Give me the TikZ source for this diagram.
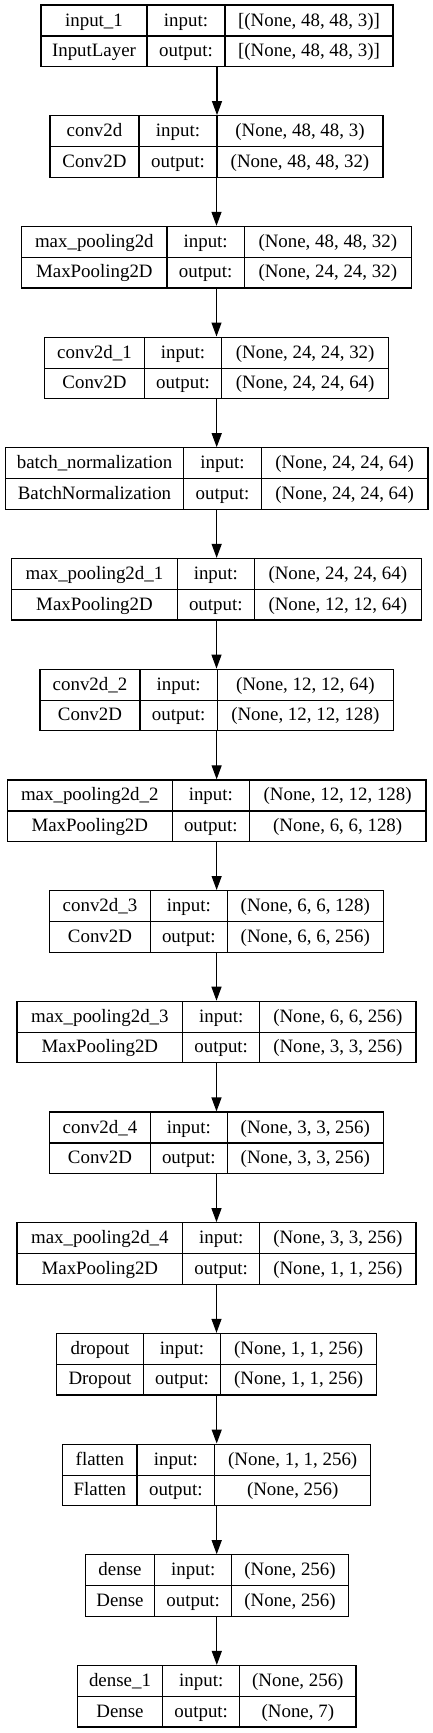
\documentclass[tikz,border=0pt]{standalone}
\usepackage{fontspec}
\setmainfont{Liberation Serif}
\usetikzlibrary{arrows.meta}

\begin{document}
\begin{tikzpicture}[
    x=1pt, y=-1pt,
    layer/.style={draw, line width=1.2pt, inner sep=0pt, minimum height=61.5pt},
    cell/.style={anchor=base, inner sep=0pt, font=\fontsize{18.9}{22}\selectfont},
    sep/.style={line width=1.2pt},
    edge/.style={-{Triangle[length=14pt, width=10pt]}, line width=1.2pt}
]
    \useasboundingbox (0,0) rectangle (433,1733);

    % 定义各层 (编号/左/分隔1/分隔2/右/名称/类型/输入/输出)
    \foreach \i/\xa/\xb/\xc/\xd/\lname/\ltype/\lin/\lout in {
        1/41/147/225/393/input\_1/InputLayer/{[(None, 48, 48, 3)]}/{[(None, 48, 48, 3)]},
        2/50/139/217/383/conv2d/Conv2D/{(None, 48, 48, 3)}/{(None, 48, 48, 32)},
        3/21.7/167/244.3/411.3/max\_pooling2d/MaxPooling2D/{(None, 48, 48, 32)}/{(None, 24, 24, 32)},
        4/44.7/144.3/221.7/388.7/conv2d\_1/Conv2D/{(None, 24, 24, 32)}/{(None, 24, 24, 64)},
        5/5.3/183.7/261.3/428/batch\_normalization/BatchNormalization/{(None, 24, 24, 64)}/{(None, 24, 24, 64)},
        6/11.7/177.3/254.3/421.3/max\_pooling2d\_1/MaxPooling2D/{(None, 24, 24, 64)}/{(None, 12, 12, 64)},
        7/40/140/217.3/393.3/conv2d\_2/Conv2D/{(None, 12, 12, 64)}/{(None, 12, 12, 128)},
        8/7.3/172.3/249.3/426/max\_pooling2d\_2/MaxPooling2D/{(None, 12, 12, 128)}/{(None, 6, 6, 128)},
        9/49.7/150.3/227.3/383.3/conv2d\_3/Conv2D/{(None, 6, 6, 128)}/{(None, 6, 6, 256)},
        10/17/182.7/259.7/416/max\_pooling2d\_3/MaxPooling2D/{(None, 6, 6, 256)}/{(None, 3, 3, 256)},
        11/49.7/150.3/227.3/383.3/conv2d\_4/Conv2D/{(None, 3, 3, 256)}/{(None, 3, 3, 256)},
        12/17/182.7/259.7/416/max\_pooling2d\_4/MaxPooling2D/{(None, 3, 3, 256)}/{(None, 1, 1, 256)},
        13/56.7/143.3/220.7/376.7/dropout/Dropout/{(None, 1, 1, 256)}/{(None, 1, 1, 256)},
        14/62.7/137/214.7/370.7/flatten/Flatten/{(None, 1, 1, 256)}/{(None, 256)},
        15/85.3/154.7/231.7/348.3/dense/Dense/{(None, 256)}/{(None, 256)},
        16/77.3/162.7/239.7/356/dense\_1/Dense/{(None, 256)}/{(None, 7)}%
    } {
        \pgfmathsetmacro{\yt}{5+110.7*(\i-1)}
        \node[layer, minimum width={(\xd-\xa)*1pt}] (L\i) at ({(\xa+\xd)/2}, \yt+30.75) {};
        \draw[sep] (\xb, \yt) -- (\xb, \yt+61.5);
        \draw[sep] (\xc, \yt) -- (\xc, \yt+61.5);
        \draw[sep] (\xa, \yt+31) -- (\xd, \yt+31);
        \node[cell] (L\i-name) at ({(\xa+\xb)/2}, \yt+21) {\lname};
        \node[cell] (L\i-type) at ({(\xa+\xb)/2}, \yt+51.5) {\ltype};
        \node[cell] (L\i-inl)  at ({(\xb+\xc)/2}, \yt+21) {input:};
        \node[cell] (L\i-outl) at ({(\xb+\xc)/2}, \yt+51.5) {output:};
        \node[cell] (L\i-in)   at ({(\xc+\xd)/2}, \yt+21) {\lin};
        \node[cell] (L\i-out)  at ({(\xc+\xd)/2}, \yt+51.5) {\lout};
    }

    % 层与层之间的连线
    \foreach \i [evaluate=\i as \j using int(\i+1)] in {1,...,15} {
        \draw[edge] (L\i.south) -- (L\i.south |- L\j.north);
    }
\end{tikzpicture}
\end{document}
